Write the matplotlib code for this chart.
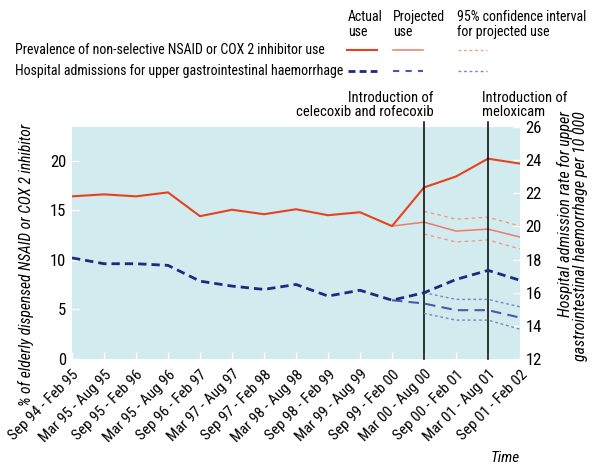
import numpy as np
import matplotlib
matplotlib.use('Agg')
from matplotlib import pyplot as plt
from matplotlib import font_manager as fm

# narrow sans close to the original Helvetica Condensed look
installed = set(f.name for f in fm.fontManager.ttflist)
for fam in ['Roboto Condensed', 'Liberation Sans Narrow', 'Archivo Narrow', 'PT Sans Narrow',
            'IBM Plex Sans Condensed', 'Fira Sans Condensed', 'Liberation Sans']:
    if fam in installed:
        break
plt.rcParams['font.family'] = [fam, 'DejaVu Sans']

periods = ['Sep 94 - Feb 95', 'Mar 95 - Aug 95', 'Sep 95 - Feb 96', 'Mar 95 - Aug 96',
           'Sep 96 - Feb 97', 'Mar 97 - Aug 97', 'Sep 97 - Feb 98', 'Mar 98 - Aug 98',
           'Sep 98 - Feb 99', 'Mar 99 - Aug 99', 'Sep 99 - Feb 00', 'Mar 00 - Aug 00',
           'Sep 00 - Feb 01', 'Mar 01 - Aug 01', 'Sep 01 - Feb 02']

# prevalence of NSAID / COX 2 use (% , left axis)
nsaid_actual = [16.4, 16.6, 16.4, 16.8, 14.4, 15.05, 14.6, 15.1, 14.5, 14.8, 13.4, 17.3, 18.4, 20.2, 19.7]
nsaid_proj = [13.4, 13.8, 12.9, 13.1, 12.3]      # from Sep 99 - Feb 00
nsaid_ci_hi = [14.9, 14.1, 14.3, 13.4]           # from Mar 00 - Aug 00
nsaid_ci_lo = [12.6, 11.8, 12.0, 11.1]

# hospital admissions per 10 000 (right axis)
gi_actual = [18.1, 17.75, 17.75, 17.65, 16.7, 16.4, 16.2, 16.5, 15.8, 16.15, 15.55, 16.0, 16.8, 17.35, 16.75]
gi_proj = [15.55, 15.35, 14.95, 14.95, 14.5]
gi_ci_hi = [16.0, 15.6, 15.6, 15.15]
gi_ci_lo = [14.75, 14.35, 14.35, 13.8]

events = {11: 'Introduction of\ncelecoxib and rofecoxib', 13: 'Introduction of\nmeloxicam'}

red = '#e8411e'
red_proj = '#f07a68'
red_ci = '#f29a88'
blue = '#1e2a80'
blue_proj = '#4a5aa8'
blue_ci = '#7a86c4'
bg = '#d2ebee'

x = np.arange(len(periods))
xp = x[10:]
xc = x[11:]

fig = plt.figure(figsize=(6, 4.7), dpi=100)
ax = fig.add_axes([0.12, 0.236, 0.7467, 0.494])
ax.set_facecolor(bg)
ax2 = ax.twinx()

ax.plot(x, nsaid_actual, color=red, lw=1.5, zorder=5)
ax.plot(xp, nsaid_proj, color=red_proj, lw=1.1, zorder=4)
ax.plot(xc, nsaid_ci_hi, color=red_ci, lw=1, ls=(0, (2.5, 2.5)))
ax.plot(xc, nsaid_ci_lo, color=red_ci, lw=1, ls=(0, (2.5, 2.5)))

ax2.plot(x, gi_actual, color=blue, lw=2, ls=(0, (3, 1.8)), zorder=5)
ax2.plot(xp, gi_proj, color=blue_proj, lw=1.5, ls=(0, (5, 3)), zorder=4)
ax2.plot(xc, gi_ci_hi, color=blue_ci, lw=1, ls=(0, (2, 2)))
ax2.plot(xc, gi_ci_lo, color=blue_ci, lw=1, ls=(0, (2, 2)))

ax.set_xlim(0, len(periods) - 1)
ax.set_ylim(0, 23.4)
ax2.set_ylim(12, 26)
ax.set_yticks([0, 5, 10, 15, 20])
ax2.set_yticks(range(12, 27, 2))
ax.set_xticks(x)
ax.set_xticklabels(periods, rotation=45, ha='right', rotation_mode='anchor')

for a in (ax, ax2):
    for s in a.spines.values():
        s.set_visible(False)
    a.tick_params(direction='in', color='white', length=5, width=1, labelsize=12, pad=4)
ax.tick_params(axis='x', pad=6, labelsize=11)

for k, txt in events.items():
    ax.plot([k, k], [0, 1.022], color='black', lw=1.1, transform=ax.get_xaxis_transform(),
            clip_on=False, zorder=6)
    if k == 11:
        ax.text(k + 0.3, 1.035, txt, transform=ax.get_xaxis_transform(), ha='right', va='bottom',
                fontsize=10.5, multialignment='right', linespacing=1.0)
    else:
        ax.text(k - 0.2, 1.035, txt, transform=ax.get_xaxis_transform(), ha='left', va='bottom',
                fontsize=10.5, multialignment='left', linespacing=1.0)

ax.set_ylabel('% of elderly dispensed NSAID or COX 2 inhibitor', style='italic', fontsize=11.2)
ax.yaxis.set_label_coords(-0.085, 0.405)
ax2.set_ylabel('Hospital admission rate for upper\ngastrointestinal haemorrhage per 10 000',
               style='italic', fontsize=11.5, linespacing=1.0, multialignment='right')
ax2.yaxis.set_label_coords(1.083, 0.53)
fig.text(0.817, 0.018, 'Time', style='italic', fontsize=11)

# legend at top
fig.text(0.58, 0.979, 'Actual\nuse', fontsize=10, linespacing=1.1, va='top')
fig.text(0.655, 0.979, 'Projected\nuse', fontsize=10, linespacing=1.1, va='top')
fig.text(0.762, 0.979, '95% confidence interval\nfor projected use', fontsize=10, linespacing=1.1, va='top')
fig.text(0.025, 0.894, 'Prevalence of non-selective NSAID or COX 2 inhibitor use', fontsize=10, va='center')
fig.text(0.025, 0.849, 'Hospital admissions for upper gastrointestinal haemorrhage', fontsize=10, va='center')
fig.add_artist(plt.Line2D([0.578, 0.628], [0.893, 0.893], color=red, lw=1.5))
fig.add_artist(plt.Line2D([0.655, 0.705], [0.893, 0.893], color=red_proj, lw=1.1))
fig.add_artist(plt.Line2D([0.763, 0.812], [0.893, 0.893], color=red_ci, lw=1, ls=(0, (2, 2))))
fig.add_artist(plt.Line2D([0.58, 0.628], [0.849, 0.849], color=blue, lw=2, ls=(0, (2.5, 1.5))))
fig.add_artist(plt.Line2D([0.655, 0.705], [0.849, 0.849], color=blue_proj, lw=1.5, ls=(0, (3, 3))))
fig.add_artist(plt.Line2D([0.763, 0.812], [0.849, 0.849], color=blue_ci, lw=1, ls=(0, (2, 2))))

fig.savefig('out.png', dpi=100)
